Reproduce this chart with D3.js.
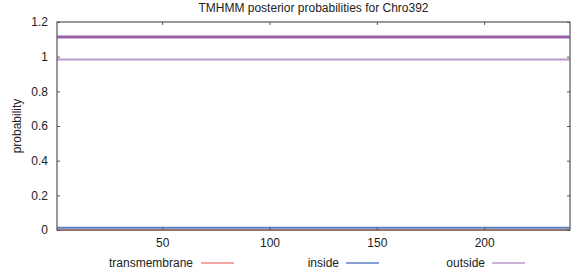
<!DOCTYPE html>
<html>
<head>
<meta charset="utf-8">
<script src="https://cdn.jsdelivr.net/npm/d3@7/dist/d3.min.js"></script>
<style>
  body { margin: 0; background: #fff; }
  svg text { font-family: "Liberation Sans", Arial, sans-serif; font-size: 12px; fill: #222; }
</style>
</head>
<body>
<div id="chart"></div>
<script>
// posterior probability runs: [from, to, value]
const transmembrane = [[1, 240, 0.0]]
const inside = [[1, 240, 0.013]]
const outside = [[1, 240, 0.983]]
// predicted topology drawn above the plot
const topology = [[1, 240, 1.113]]

const xTicks = [50, 100, 150, 200]
const yTicks = [0, 0.2, 0.4, 0.6, 0.8, 1, 1.2]
const legendItems = [
  {label: "transmembrane", color: "#ee8a88", textEnd: 193, lineStart: 201},
  {label: "inside", color: "#5d80c4", textEnd: 339, lineStart: 346},
  {label: "outside", color: "#b99acb", textEnd: 485, lineStart: 492}
]

const width = 571
const height = 272
const margin = {top: 22, right: 1, bottom: 42, left: 57}

const svg = d3.select("#chart").append("svg")
  .attr("width", width)
  .attr("height", height)

const x = d3.scaleLinear().domain([1, 240]).range([margin.left, width - margin.right])
const y = d3.scaleLinear().domain([0, 1.2]).range([height - margin.bottom, margin.top])

const plotW = width - margin.left - margin.right
const plotH = height - margin.top - margin.bottom

function drawRuns (runs, color, widthPx) {
  runs.forEach(([a, b, v]) => {
    svg.append("line")
      .attr("x1", x(a)).attr("x2", x(b))
      .attr("y1", y(v)).attr("y2", y(v))
      .attr("stroke", color)
      .attr("stroke-width", widthPx)
  })
}

drawRuns(topology, "#9a62a8", 3)
drawRuns(outside, "#b99acb", 2)
drawRuns(inside, "#5d80c4", 2)
drawRuns(transmembrane, "#ee8a88", 1.5)

// ticks on all four sides, pointing inward
const tickLen = 3
const axisColor = "#555"
svg.append("g")
  .attr("transform", `translate(0,${y(0)})`)
  .call(d3.axisBottom(x).tickValues(xTicks).tickSizeInner(-tickLen).tickSizeOuter(0).tickPadding(8))
svg.append("g")
  .attr("transform", `translate(0,${y(1.2)})`)
  .call(d3.axisTop(x).tickValues(xTicks).tickSizeInner(-tickLen).tickSizeOuter(0).tickFormat(""))
svg.append("g")
  .attr("transform", `translate(${x(1)},0)`)
  .call(d3.axisLeft(y).tickValues(yTicks).tickSizeInner(-tickLen).tickSizeOuter(0).tickPadding(9)
    .tickFormat(d => d3.format("~g")(d)))
svg.append("g")
  .attr("transform", `translate(${x(240)},0)`)
  .call(d3.axisRight(y).tickValues(yTicks).tickSizeInner(-tickLen).tickSizeOuter(0).tickFormat(""))

svg.selectAll(".domain").remove()
svg.selectAll(".tick line").attr("stroke", axisColor)
svg.selectAll(".tick text").style("font-size", "12px").attr("fill", "#222")

// frame
svg.append("rect")
  .attr("x", margin.left).attr("y", margin.top)
  .attr("width", plotW).attr("height", plotH)
  .attr("fill", "none")
  .attr("stroke", axisColor)
  .attr("stroke-width", 1.2)

svg.append("text")
  .attr("x", (margin.left + width - margin.right) / 2)
  .attr("y", 12)
  .attr("text-anchor", "middle")
  .text("TMHMM posterior probabilities for Chro392")

svg.append("text")
  .attr("transform", `translate(21,${margin.top + plotH / 2}) rotate(-90)`)
  .attr("text-anchor", "middle")
  .text("probability")

const legend = svg.append("g")
legendItems.forEach(d => {
  legend.append("text")
    .attr("x", d.textEnd).attr("y", 267)
    .attr("text-anchor", "end")
    .text(d.label)
  legend.append("line")
    .attr("x1", d.lineStart).attr("x2", d.lineStart + 33)
    .attr("y1", 263).attr("y2", 263)
    .attr("stroke", d.color)
    .attr("stroke-width", 1.5)
})
</script>
</body>
</html>
